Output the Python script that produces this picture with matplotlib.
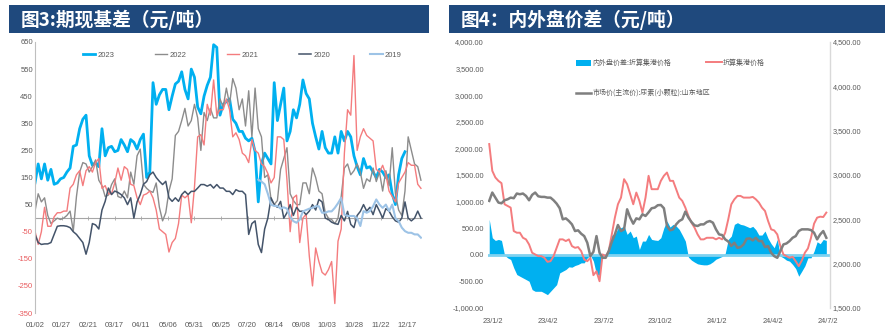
import matplotlib
matplotlib.use('Agg')
import matplotlib.pyplot as plt
import numpy as np
import pandas as pd
from matplotlib.patches import Rectangle
from matplotlib.ticker import FuncFormatter
import warnings
warnings.filterwarnings('ignore')

# ---------------- data: left chart (basis by year, sampled every 3 days) ----------------
left_start = '2024-01-02'
left_step_days = 3
basis_2023 = [130,200,145,200,140,180,125,130,145,150,
              170,185,265,270,330,365,380,230,195,205,
              190,330,230,260,265,245,250,290,270,245,
              290,280,255,290,310,150,170,500,420,455,
              475,475,400,450,495,505,540,475,440,550,
              520,410,385,450,490,520,640,630,380,420,
              430,440,365,350,320,320,295,285,295,245,
              60,200,240,220,200,500,360,420,480,285,
              320,400,370,420,510,460,440,350,300,255,
              320,260,240,240,300,240,320,285,320,300,
              230,190,160,220,185,190,170,150,180,170,
              150,160,90,50,160,220,245]
basis_2022 = [26,90,60,75,10,-20,-10,0,-5,0,
              10,26,-48,80,170,205,200,170,190,215,
              140,120,80,85,124,145,80,75,100,75,
              170,125,230,255,125,110,100,95,130,40,
              -10,20,100,145,305,320,360,405,340,360,
              420,370,250,390,360,405,370,370,440,410,
              480,420,515,480,400,440,340,470,300,480,
              330,300,150,160,70,50,65,180,220,260,
              90,65,50,50,130,130,90,185,150,100,
              90,20,0,-5,-20,0,80,185,200,160,
              175,200,170,110,145,135,185,135,170,100,
              175,120,260,90,30,10,100,300,250,200,
              190,140]
basis_2021 = [-48,-97,-50,40,-30,-30,5,20,20,26,
              26,111,125,160,175,120,175,190,170,205,
              220,110,120,90,90,130,185,140,190,180,
              125,120,75,50,85,90,100,75,30,-40,
              -50,-60,-125,-90,-75,-20,85,75,85,-17,
              115,300,308,270,420,380,510,380,400,400,
              440,400,300,315,290,240,230,205,290,250,
              240,200,190,165,130,150,300,300,290,140,
              -50,75,85,-90,0,15,-140,-250,-110,-160,
              -200,-210,-190,-160,-315,-85,-40,240,400,380,
              600,250,300,330,305,295,285,180,170,195,
              160,100,80,60,130,150,170,205,195,195,
              125,110]
basis_2020 = [-60,-90,-97,-95,-95,-90,-60,-30,-28,-28,
              -30,-35,-50,-60,-75,-90,-133,-90,-20,-25,
              -40,30,62,111,87,100,95,87,75,50,
              75,0,60,87,125,135,160,170,150,136,
              124,136,75,62,75,62,87,99,87,99,
              99,111,124,124,118,124,111,124,111,111,
              99,99,87,105,99,99,87,-60,-20,-10,
              -97,-127,-40,0,75,50,40,62,0,20,
              50,10,40,25,26,13,26,50,30,69,
              60,0,-5,-15,-20,-23,10,-10,25,-23,
              -35,10,25,50,26,40,13,50,26,0,
              35,26,5,-10,-15,0,60,0,-10,0,
              26,0]
basis_2019_first_day = 210
basis_2019 = [142,135,125,90,50,45,45,35,40,35,
              5,-11,-17,-5,25,30,35,38,44,44,
              20,20,25,25,38,55,75,13,8,8,
              8,0,-29,26,20,26,44,69,50,38,
              50,26,50,0,-11,-35,-48,-54,-54,-60,
              -60,-72]
left_series_names = ['2023', '2022', '2021', '2020', '2019']
left_xtick_labels = ['01/02','01/27','02/21','03/17','04/11','05/06','05/31','06/25',
                     '07/20','08/14','09/08','10/03','10/28','11/22','12/17']
left_yticks = [650, 550, 450, 350, 250, 150, 50, -50, -150, -250, -350]

# ---------------- data: right chart (sampled every 5 days) ----------------
right_start = '2022-12-27'
right_step_days = 5
spread = [667,321,270,289,270,-6,-57,-88,-245,-371,
          -403,-434,-465,-497,-654,-686,-686,-686,-717,-749,
          -686,-623,-560,-340,-308,-277,-226,-233,-201,-182,
          -151,-151,-57,-6,-120,-371,-384,19,6,69,
          371,384,497,509,541,384,447,321,352,101,
          258,258,384,289,277,270,321,509,635,522,
          572,541,478,371,258,-44,-101,-138,-170,-182,
          -189,-189,-170,-132,-82,-57,-31,25,289,352,
          572,604,572,560,535,509,535,472,371,371,
          447,308,208,132,289,-25,-57,-101,-120,-182,
          -258,-403,-308,-208,-57,-57,69,245,208,289,
          270]
port_price = [3349,3047,2972,2934,2908,2670,2651,2632,2368,2349,
              2349,2292,2274,2217,2123,2104,2085,2085,2066,2021,
              2028,2085,2179,2274,2274,2255,2274,2198,2179,2187,
              2142,2047,2028,2066,1870,1915,1802,2104,2085,2142,
              2330,2519,2670,2745,2953,2896,2783,2670,2802,2708,
              2576,2745,2991,2840,2840,2840,2934,2991,3028,2934,
              2934,2840,2745,2708,2632,2538,2462,2406,2330,2274,
              2274,2292,2292,2292,2274,2292,2274,2349,2500,2670,
              2726,2764,2764,2745,2745,2745,2753,2726,2689,2632,
              2594,2481,2387,2375,2330,2198,2104,2085,2066,2077,
              2028,1972,2036,2123,2172,2292,2451,2519,2530,2526,
              2576]
shandong_price = [2708,2802,2745,2689,2681,2715,2726,2745,2738,2791,
                  2783,2791,2764,2715,2776,2802,2760,2753,2753,2745,
                  2745,2715,2677,2625,2500,2511,2481,2443,2368,2376,
                  2338,2311,2236,2085,2134,2311,2123,2066,2066,2142,
                  2247,2330,2436,2368,2387,2613,2519,2451,2511,2500,
                  2557,2538,2579,2625,2632,2659,2662,2625,2425,2376,
                  2387,2443,2481,2500,2587,2519,2470,2432,2425,2443,
                  2443,2470,2481,2462,2387,2330,2323,2274,2250,2200,
                  2236,2179,2187,2217,2281,2285,2262,2292,2255,2255,
                  2187,2198,2123,2085,2066,2142,2217,2228,2255,2292,
                  2311,2368,2387,2387,2387,2379,2349,2274,2330,2368,
                  2292]
right_legend_labels = ['内外盘价差:折算集港价格', '折算集港价格', '市场价(主流价):尿素(小颗粒):山东地区']
right_xtick_dates = ['2023-01-02','2023-04-02','2023-07-02','2023-10-02','2024-01-02','2024-04-02','2024-07-02']
right_xtick_labels = ['23/1/2','23/4/2','23/7/2','23/10/2','24/1/2','24/4/2','24/7/2']

titles = ['图3:期现基差（元/吨）', '图4：内外盘价差（元/吨）']

# ---------------- figure ----------------
W, H = 885, 330
fig = plt.figure(figsize=(W / 100, H / 100), dpi=100)
NARROW = ['Liberation Sans Narrow', 'Liberation Sans', 'DejaVu Sans']
CJK = ['Noto Sans CJK SC', 'DejaVu Sans']
TXT = '#595959'
HEAD = '#1F497D'

def fx(px):
    return px / W

def fy(py):
    return 1 - py / H

# header bars
fig.patches.append(Rectangle((fx(9), fy(33)), fx(420), 28 / H, transform=fig.transFigure,
                             facecolor=HEAD, edgecolor='none', zorder=0))
fig.patches.append(Rectangle((fx(449), fy(33)), fx(436), 28 / H, transform=fig.transFigure,
                             facecolor=HEAD, edgecolor='none', zorder=0))
fig.text(fx(21), fy(19.5), titles[0], color='white', fontsize=13.5, fontweight='bold',
         family=CJK, va='center', ha='left')
fig.text(fx(461), fy(19.5), titles[1], color='white', fontsize=13.5, fontweight='bold',
         family=CJK, va='center', ha='left')

# ---------------- left chart ----------------
ax1 = fig.add_axes([fx(35), (H - 313) / H, 387 / W, 271 / H])
t0 = pd.Timestamp(left_start)
def left_dates(vals, first_day=0):
    return t0 + pd.to_timedelta(first_day + np.arange(len(vals)) * left_step_days, unit='D')

styles = {
    '2023': dict(color='#00B0F0', lw=2.0),
    '2022': dict(color='#8C8C8C', lw=1.0),
    '2021': dict(color='#F47C7E', lw=1.0),
    '2020': dict(color='#44546A', lw=1.1),
    '2019': dict(color='#9DC3E6', lw=1.5),
}
series = {
    '2023': (basis_2023, 0),
    '2022': (basis_2022, 0),
    '2021': (basis_2021, 0),
    '2020': (basis_2020, 0),
    '2019': (basis_2019, basis_2019_first_day),
}
handles = []
for name in left_series_names:
    vals, fd = series[name]
    h, = ax1.plot(left_dates(vals, fd), vals, label=name, solid_joinstyle='round', **styles[name])
    handles.append(h)

ax1.set_xlim(t0, t0 + pd.Timedelta(days=364))
ax1.set_ylim(-350, 650)
ax1.set_yticks(left_yticks)
ax1.set_yticklabels([str(v) for v in left_yticks])
for lab, v in zip(ax1.get_yticklabels(), left_yticks):
    lab.set_color('#E8595C' if v < 0 else TXT)
    lab.set_family(NARROW)
    lab.set_fontsize(5.5)
ax1.tick_params(axis='y', length=0, pad=1.5)

left_xticks = t0 + pd.to_timedelta(np.arange(len(left_xtick_labels)) * 25, unit='D')
ax1.set_xticks(left_xticks)
ax1.tick_params(axis='x', which='major', direction='inout', length=3, width=0.6,
                color='#A6A6A6', labelbottom=False)
for s in ['top', 'right']:
    ax1.spines[s].set_visible(False)
ax1.spines['left'].set_color('#BFBFBF')
ax1.spines['left'].set_linewidth(0.8)
ax1.spines['bottom'].set_position(('data', 0))
ax1.spines['bottom'].set_color('#A6A6A6')
ax1.spines['bottom'].set_linewidth(0.8)
ax1.spines['bottom'].set_zorder(0.5)

sec = ax1.secondary_xaxis('bottom')
sec.set_xticks(left_xticks)
sec.set_xticklabels(left_xtick_labels, family=NARROW, fontsize=5.5, color=TXT)
sec.tick_params(length=0, pad=6.5)
sec.spines['bottom'].set_visible(False)

leg1 = ax1.legend(handles=handles, labels=left_series_names, ncol=5, loc='center left',
                  bbox_to_anchor=(0.124, 0.952), frameon=False, handlelength=1.6,
                  handletextpad=0.3, columnspacing=5.3, borderpad=0, borderaxespad=0,
                  prop={'family': NARROW, 'size': 5.5})
for t in leg1.get_texts():
    t.set_color(TXT)

# ---------------- right chart ----------------
ax2 = fig.add_axes([fx(488), (H - 308) / H, 342 / W, 266 / H])
r0 = pd.Timestamp(right_start)
rdates = r0 + pd.to_timedelta(np.arange(len(spread)) * right_step_days, unit='D')
area = ax2.fill_between(rdates, 0, spread, color='#00B0F0', lw=0, zorder=2)
ax2.axhline(0, color='#7FD2F0', lw=2.0, zorder=3)
ax2.set_ylim(-1000, 4000)
ax2.set_yticks(np.arange(-1000, 4001, 500))
ax2.yaxis.set_major_formatter(FuncFormatter(lambda v, p: f'{v:,.2f}'))
ax2.set_xlim(pd.Timestamp('2022-12-25'), pd.Timestamp('2024-07-05'))
ax2.set_xticks(pd.to_datetime(right_xtick_dates))
ax2.set_xticklabels(right_xtick_labels)
ax2.tick_params(axis='both', length=0, labelsize=5.3, labelcolor=TXT)
ax2.tick_params(axis='y', pad=3)
ax2.tick_params(axis='x', pad=7)
for lab in ax2.get_yticklabels() + ax2.get_xticklabels():
    lab.set_family(NARROW)
for s in ax2.spines.values():
    s.set_visible(False)

ax2r = ax2.twinx()
red, = ax2r.plot(rdates, port_price, color='#F47C7E', lw=1.4, zorder=3)
gray, = ax2r.plot(rdates, shandong_price, color='#7F7F7F', lw=1.8, zorder=4)
ax2r.set_ylim(1500, 4500)
ax2r.set_yticks(np.arange(1500, 4501, 500))
ax2r.yaxis.set_major_formatter(FuncFormatter(lambda v, p: f'{v:,.2f}'))
ax2r.tick_params(axis='y', length=0, labelsize=5.3, labelcolor=TXT, pad=2)
for lab in ax2r.get_yticklabels():
    lab.set_family(NARROW)
for s in ['top', 'left', 'bottom']:
    ax2r.spines[s].set_visible(False)
ax2r.spines['right'].set_color('#D9D9D9')
ax2r.spines['right'].set_linewidth(1.0)

legA = ax2r.legend(handles=[area, red], labels=right_legend_labels[:2], ncol=2,
                   loc='center left', bbox_to_anchor=((576 - 488) / 342, (308 - 63) / 266),
                   frameon=False, handlelength=2.2, handleheight=1.0, handletextpad=0.2,
                   columnspacing=5.0, borderpad=0, borderaxespad=0,
                   prop={'family': CJK, 'size': 5})
for t in legA.get_texts():
    t.set_color(TXT)
ax2r.add_artist(legA)
legB = ax2r.legend(handles=[gray], labels=right_legend_labels[2:], loc='center left',
                   bbox_to_anchor=((576 - 488) / 342, (308 - 93) / 266),
                   frameon=False, handlelength=2.2, handletextpad=0.2, borderpad=0,
                   borderaxespad=0, prop={'family': CJK, 'size': 5})
for t in legB.get_texts():
    t.set_color(TXT)

fig.savefig('out.png', dpi=100)
